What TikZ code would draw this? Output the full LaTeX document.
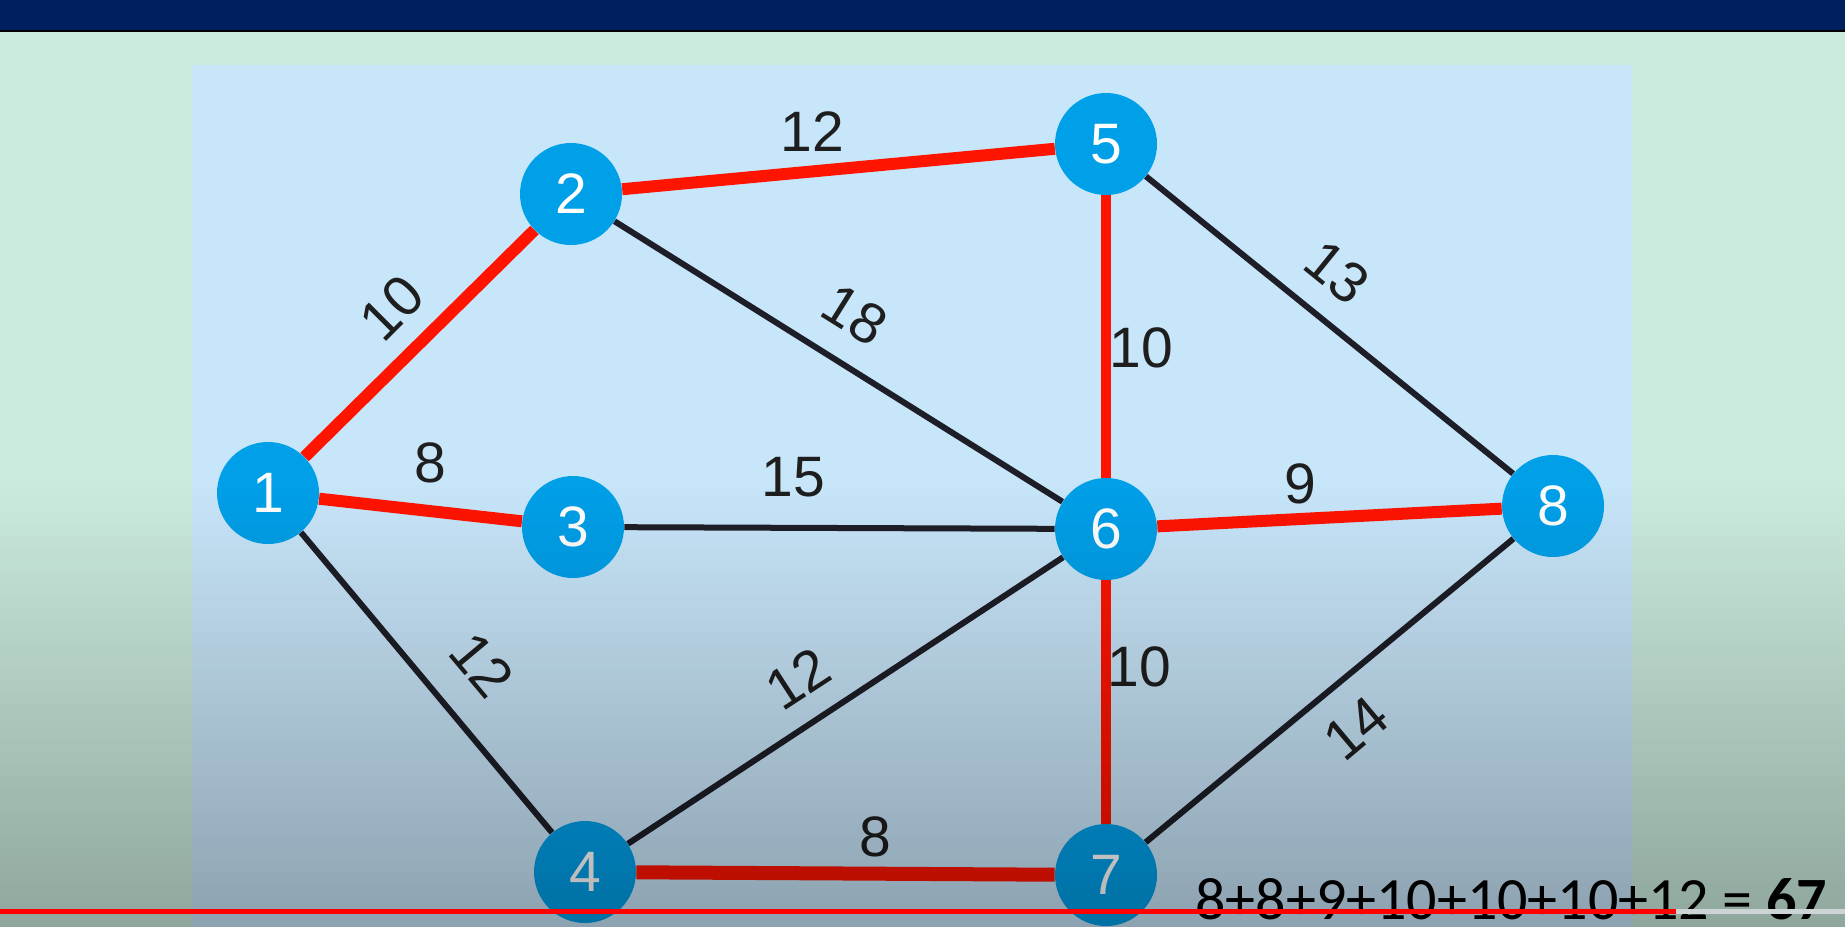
\documentclass[tikz,border=0pt]{standalone}
\usepackage{fontspec}
\newfontfamily\arialfont{Liberation Sans}
\newfontfamily\calfont{Carlito}
\usetikzlibrary{fadings}

\definecolor{navybar}{RGB}{0,31,95}
\definecolor{slidegreen}{RGB}{203,236,221}
\definecolor{panelblue}{RGB}{200,230,250}
\definecolor{vertexblue}{RGB}{0,160,233}
\definecolor{mstred}{RGB}{255,20,0}
\definecolor{linkgray}{RGB}{30,30,40}
\definecolor{labelgray}{RGB}{30,30,30}
\definecolor{barred}{RGB}{255,0,0}
\definecolor{bargray}{RGB}{205,212,212}
\tikzfading[name=fadedown, top color=transparent!100, bottom color=transparent!70]

\begin{document}
\begin{tikzpicture}[x=0.5pt,y=-0.5pt,
	vertex/.style={circle,fill=vertexblue,text=white,minimum size=51pt,inner sep=0pt,font=\arialfont\fontsize{28.5}{30}\selectfont},
	weight/.style={text=labelgray,inner sep=0pt,font=\arialfont\fontsize{28.5}{30}\selectfont},
	link/.style={draw=linkgray,line width=3pt},
	mst/.style={draw=mstred,line width=6pt}]
		
		\useasboundingbox (0,0) rectangle (1845,926);
		\fill[slidegreen] (-10,0) rectangle (1855,936);
		\fill[panelblue] (192,65) rectangle (1632,936);
		\fill[navybar] (-10,-10) rectangle (1855,30);
		\draw[black,line width=1pt] (-10,30.5) -- (1855,30.5);
		
		\node(1) at (268,493)[vertex]{1};
		\node(2) at (571,194)[vertex]{2};
		\node(3) at (573,527)[vertex]{3};
		\node(4) at (585,872)[vertex]{4};
		\node(5) at (1106,144)[vertex]{5};
		\node(6) at (1106,529)[vertex]{6};
		\node(7) at (1106,875)[vertex]{7};
		\node(8) at (1553,506)[vertex]{8};
		
		\draw[link] (1) -- (4);
		\draw[link] (2) -- (6);
		\draw[link] (3) -- (6);
		\draw[link] (4) -- (6);
		\draw[link] (5) -- (8);
		\draw[link] (7) -- (8);
		\draw[mst] (1) -- (2);
		\draw[mst] (1) -- (3);
		\draw[mst] (2) -- (5);
		\draw[mst] (6) -- (8);
		\draw[mst,line width=7pt] (4) -- (7);
		\draw[mst,line width=5pt] (5) -- (6);
		\draw[mst,line width=5pt] (6) -- (7);
		
		\node(w12) at (392,308)[weight,rotate=45]{10};
		\node(w13) at (430,463)[weight]{8};
		\node(w14) at (482,665)[weight,rotate=-50]{12};
		\node(w25) at (812,132)[weight]{12};
		\node(w26) at (855,315)[weight,rotate=-32]{18};
		\node(w36) at (793,477)[weight]{15};
		\node(w46) at (798,679)[weight,rotate=33]{12};
		\node(w47) at (875,837)[weight]{8};
		\node(w56) at (1141,348)[weight]{10};
		\node(w58) at (1337,272)[weight,rotate=-39]{13};
		\node(w67) at (1139,667)[weight]{10};
		\node(w68) at (1300,484)[weight]{9};
		\node(w78) at (1356,728)[weight,rotate=40]{14};
		
		% darker lower part of the slide
		\fill[black,path fading=fadedown] (-10,480) rectangle (1855,936);
		
		\node(sum) at (1195,919)[anchor=base west,inner sep=0pt,font=\calfont\fontsize{30}{32}\selectfont]{8+8+9+10+10+10+12 = \textbf{67}};
		\draw[barred,line width=2.5pt] (-10,911) -- (1676,911);
		\draw[bargray,line width=2.5pt] (1676,911) -- (1855,911);
		
	\end{tikzpicture}
\end{document}
